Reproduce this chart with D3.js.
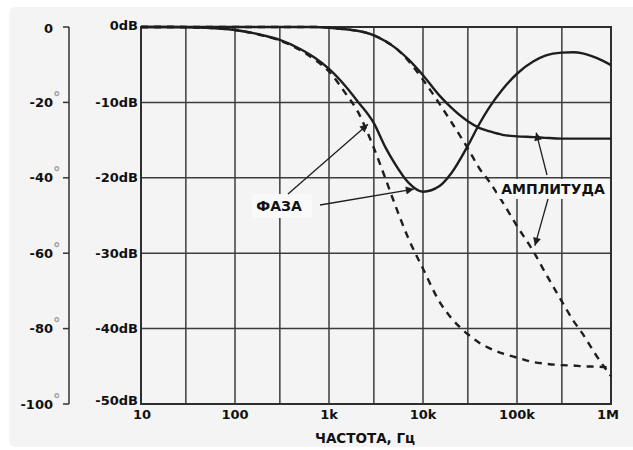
<!DOCTYPE html>
<html>
<head>
<meta charset="utf-8">
<script src="https://cdn.jsdelivr.net/npm/d3@7"></script>
<style>
  html, body { margin: 0; padding: 0; background: #ffffff; }
  svg { display: block; }
  text { font-family: "DejaVu Sans", "Liberation Sans", Arial, sans-serif; font-weight: bold; fill: #111; }
</style>
</head>
<body>
<svg id="chart" width="633" height="450"></svg>
<script>
// ---- data ----
const freqs = [10, 20, 50, 100, 200, 300, 500, 700, 1000, 1500, 2000, 3000, 4000, 5000, 7000,
  10000, 15000, 20000, 30000, 40000, 50000, 70000, 100000, 150000, 200000, 300000, 400000,
  500000, 700000, 1000000];
// phase (degrees), solid curve with dip and rise
const phaseSolid = [0, 0, -0.2, -0.8, -2.2, -3.4, -5.9, -8.1, -11.1, -15.7, -19.6, -25.5, -32.0,
  -36.2, -41.3, -43.7, -42.2, -38.8, -31.5, -25.6, -21.6, -16.6, -12.4, -9.1, -7.6, -6.8, -6.7,
  -7.0, -8.2, -10.1];
// phase (degrees), dashed curve
const phaseDashed = [0, 0, -0.2, -0.8, -2.3, -3.6, -6.2, -8.6, -11.8, -17.6, -22.2, -32.1, -40.3,
  -46.9, -56.1, -64.1, -72.9, -77.2, -81.5, -83.8, -85.1, -86.6, -87.7, -88.9, -89.3, -89.7,
  -89.8, -90.0, -90.1, -90.3];
// amplitude (dB), solid curve levelling at -15 dB
const ampSolid = [0, 0, 0, 0, 0, 0, 0, 0, -0.1, -0.3, -0.5, -1.1, -1.9, -2.7, -4.3, -6.4, -9.1,
  -10.7, -12.5, -13.4, -13.8, -14.3, -14.5, -14.6, -14.7, -14.8, -14.8, -14.8, -14.8, -14.8];
// amplitude (dB), dashed curve
const ampDashed = [0, 0, 0, 0, 0, 0, 0, 0, -0.1, -0.3, -0.5, -1.1, -1.9, -2.7, -4.5, -7.0, -10.2,
  -12.6, -16.1, -18.8, -20.4, -23.2, -26.4, -29.8, -32.6, -36.4, -39.0, -40.7, -43.6, -46.3];

const xTicks = [10, 100, 1000, 10000, 100000, 1000000];
const xTickLabels = ["10", "100", "1k", "10k", "100k", "1M"];
const xGrid = [30, 300, 3000, 30000, 300000];
const dbTicks = [0, -10, -20, -30, -40, -50];
const dbTickLabels = ["0dB", "-10dB", "-20dB", "-30dB", "-40dB", "-50dB"];
const phaseTicks = [0, -20, -40, -60, -80, -100];
const phaseTickLabels = ["0", "-20", "-40", "-60", "-80", "-100"];
const xTitle = "ЧАСТОТА, Гц";
const labelPhase = "ФАЗА";
const labelAmp = "АМПЛИТУДА";

// ---- layout ----
const svg = d3.select("#chart");
const L = 141, R = 611, T = 27, B = 404;

svg.append("rect").attr("x", 9).attr("y", 7).attr("width", 640).attr("height", 440)
  .attr("rx", 6).attr("fill", "#f4f4f4");

const x = d3.scaleLog().domain([10, 1e6]).range([L, R]);
const yDb = d3.scaleLinear().domain([-50, 0]).range([B, T]);
const yPh = d3.scaleLinear().domain([-100, 0]).range([B, T]);

// grid
const grid = svg.append("g").attr("stroke", "#3c3c3c").attr("stroke-width", 1.5);
grid.selectAll("line.v").data(xTicks.concat(xGrid)).join("line")
  .attr("x1", d => x(d)).attr("x2", d => x(d)).attr("y1", T).attr("y2", B);
grid.selectAll("line.h").data(dbTicks).join("line").attr("class", "h")
  .attr("x1", L).attr("x2", R).attr("y1", d => yDb(d)).attr("y2", d => yDb(d));
svg.append("rect").attr("x", L).attr("y", T).attr("width", R - L).attr("height", B - T)
  .attr("fill", "none").attr("stroke", "#2e2e2e").attr("stroke-width", 2);

// dB axis labels
svg.append("g").selectAll("text").data(dbTicks).join("text")
  .attr("x", 138).attr("y", (d, i) => yDb(d) + (i === 5 ? 1 : (i === 0 ? 3 : 4.5)))
  .attr("text-anchor", "end").attr("font-size", 13)
  .text((d, i) => dbTickLabels[i]);

// x axis labels
svg.append("g").selectAll("text").data(xTicks).join("text")
  .attr("x", (d, i) => x(d) + (i === 0 ? 1 : (i === 5 ? -3 : 0))).attr("y", 419)
  .attr("text-anchor", "middle").attr("font-size", 13)
  .text((d, i) => xTickLabels[i]);
svg.append("text").attr("x", 365).attr("y", 443).attr("text-anchor", "middle")
  .attr("font-size", 13.5).text(xTitle);

// phase axis
const pax = svg.append("g");
pax.append("line").attr("x1", 69).attr("x2", 69).attr("y1", yPh(0)).attr("y2", yPh(-100))
  .attr("stroke", "#333").attr("stroke-width", 1.5);
pax.selectAll("line.t").data(phaseTicks).join("line").attr("class", "t")
  .attr("x1", 63).attr("x2", 69).attr("y1", d => yPh(d)).attr("y2", d => yPh(d))
  .attr("stroke", "#333").attr("stroke-width", 1.5);
pax.selectAll("text.lab").data(phaseTicks).join("text").attr("class", "lab")
  .attr("x", 53).attr("y", (d, i) => yPh(d) + (i === 0 ? 6 : 4.5)).attr("text-anchor", "end")
  .attr("font-size", 13)
  .text((d, i) => phaseTickLabels[i]);
pax.selectAll("text.deg").data(phaseTicks.slice(1)).join("text").attr("class", "deg")
  .attr("x", 53).attr("y", d => yPh(d) + 0.5).attr("font-size", 15)
  .attr("font-weight", "normal").style("fill", "#a0a0a0").text("°");

// curves
const lineDb = d3.line().x((d, i) => x(freqs[i])).y(d => yDb(d)).curve(d3.curveMonotoneX);
const linePh = d3.line().x((d, i) => x(freqs[i])).y(d => yPh(d)).curve(d3.curveMonotoneX);
const curves = svg.append("g").attr("fill", "none").attr("stroke", "#1e1e1e").attr("stroke-width", 2.4);
curves.append("path").attr("d", linePh(phaseDashed)).attr("stroke-dasharray", "7,6");
curves.append("path").attr("d", lineDb(ampDashed)).attr("stroke-dasharray", "7,6");
curves.append("path").attr("d", linePh(phaseSolid));
curves.append("path").attr("d", lineDb(ampSolid));

// annotations
const defs = svg.append("defs");
defs.append("marker").attr("id", "arr").attr("viewBox", "0 0 10 10").attr("refX", 10).attr("refY", 5)
  .attr("markerWidth", 12).attr("markerHeight", 8).attr("markerUnits", "userSpaceOnUse")
  .attr("orient", "auto")
  .append("path").attr("d", "M0,0 L10,5 L0,10 z").attr("fill", "#1e1e1e");

function arrow(x1, y1, fx, vy, scale) {
  svg.append("line").attr("x1", x1).attr("y1", y1)
    .attr("x2", x(fx)).attr("y2", scale(vy))
    .attr("stroke", "#1e1e1e").attr("stroke-width", 1.3).attr("marker-end", "url(#arr)");
}
// label boxes
svg.append("rect").attr("x", 252).attr("y", 194).attr("width", 60).attr("height", 24)
  .attr("rx", 3).attr("fill", "#f9f9f9");
svg.append("rect").attr("x", 497).attr("y", 179).attr("width", 112).attr("height", 20)
  .attr("rx", 3).attr("fill", "#f9f9f9");

arrow(288, 194, 2600, -25.8, yPh);
arrow(320, 205, 8000, -43.0, yPh);
arrow(547, 175, 160000, -14.0, yDb);
arrow(548, 199, 155000, -29.0, yDb);

svg.append("text").attr("x", 279).attr("y", 211).attr("text-anchor", "middle")
  .attr("font-size", 14).text(labelPhase);
svg.append("text").attr("x", 553).attr("y", 194).attr("text-anchor", "middle")
  .attr("font-size", 14).text(labelAmp);
</script>
</body>
</html>
